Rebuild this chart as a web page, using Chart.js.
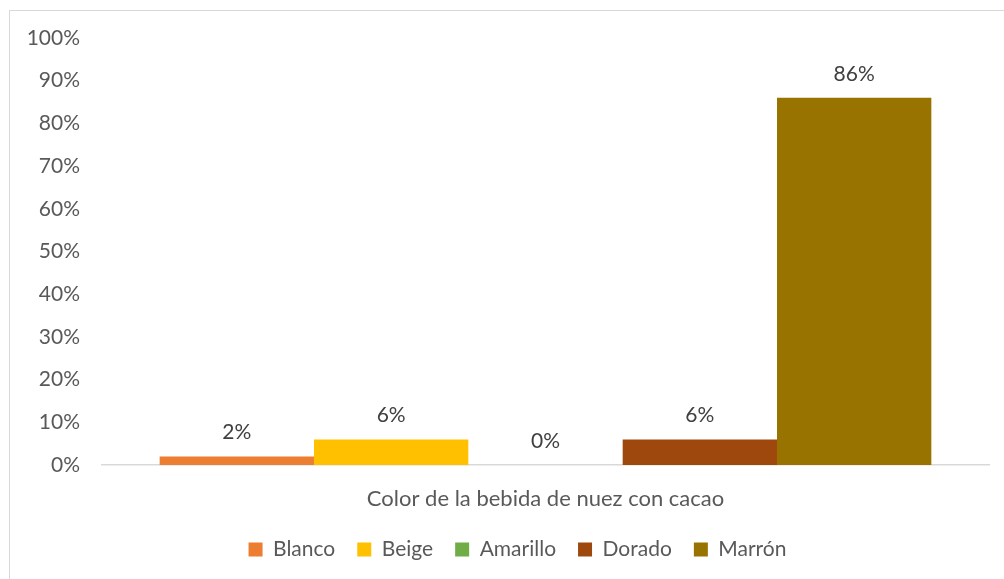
<!DOCTYPE html>
<html>
<head>
<meta charset="utf-8">
<script src="https://cdn.jsdelivr.net/npm/chart.js@4/dist/chart.umd.min.js"></script>
<style>
  html, body { margin: 0; padding: 0; background: #fff; }
  #frame {
    position: absolute;
    left: 9px;
    top: 10px;
    width: 995px;
    height: 569px;
    border-left: 1px solid #d9d9d9;
    border-top: 1px solid #d9d9d9;
  }
  #frame canvas { display: block; }
</style>
</head>
<body>
<div id="frame"><canvas id="graph1" width="995" height="569"></canvas></div>
<script>
var categories = ['Color de la bebida de nuez con cacao'];
var seriesNames = ['Blanco', 'Beige', 'Amarillo', 'Dorado', 'Marrón'];
var seriesValues = [2, 6, 0, 6, 86]; // %
var seriesColors = ['#ED7D31', '#FFC000', '#70AD47', '#9E480E', '#997300'];
var yTicks = [0, 10, 20, 30, 40, 50, 60, 70, 80, 90, 100];

var fontFamily = 'Lato, "Open Sans", sans-serif';
var fontSize = 21;

// value labels above each bar
var valueLabels = {
  id: 'valueLabels',
  afterDatasetsDraw: function (chart) {
    var ctx = chart.ctx;
    ctx.save();
    ctx.font = fontSize + 'px ' + fontFamily;
    ctx.fillStyle = '#404040';
    ctx.textAlign = 'center';
    ctx.textBaseline = 'middle';
    chart.data.datasets.forEach(function (ds, i) {
      var meta = chart.getDatasetMeta(i);
      meta.data.forEach(function (bar, j) {
        ctx.fillText(ds.data[j] + '%', bar.x, bar.y - 24);
      });
    });
    ctx.restore();
  }
};

// nudge the legend to the right, centred under the plot like the original
var legendShift = {
  id: 'legendShift',
  afterLayout: function (chart) {
    chart.legend.left += 18;
    chart.legend.right += 18;
  }
};

var datasets = seriesNames.map(function (name, i) {
  return {
    label: name,
    data: [seriesValues[i]],
    backgroundColor: seriesColors[i],
    borderWidth: 0,
    categoryPercentage: 0.87,
    barPercentage: 1.0
  };
});

var graph1 = new Chart(
  document.getElementById('graph1'),
  {
    type: 'bar',
    data: { labels: categories, datasets: datasets },
    plugins: [valueLabels, legendShift],
    options: {
      responsive: false,
      animation: false,
      layout: { padding: { left: 0, right: 16, top: 27, bottom: 10 } },
      plugins: {
        tooltip: { enabled: false },
        legend: {
          position: 'bottom',
          labels: {
            boxWidth: 14,
            boxHeight: 14,
            padding: 22,
            color: '#595959',
            font: { family: fontFamily, size: fontSize }
          }
        }
      },
      scales: {
        x: {
          afterFit: function (scale) { scale.height = 52; },
          grid: { display: false, drawTicks: false },
          border: { display: true, color: '#d9d9d9', width: 1.5 },
          ticks: {
            padding: 21,
            color: '#595959',
            font: { family: fontFamily, size: 22 }
          }
        },
        y: {
          min: 0,
          max: 100,
          afterFit: function (scale) {
            scale.width = 92;
            scale.paddingTop = 0;
            scale.paddingBottom = 0;
          },
          afterBuildTicks: function (scale) {
            scale.ticks = yTicks.map(function (v) { return { value: v }; });
          },
          grid: { display: false, drawTicks: false },
          border: { display: false },
          ticks: {
            padding: 22,
            color: '#595959',
            font: { family: fontFamily, size: fontSize },
            callback: function (v) { return v + '%'; }
          }
        }
      }
    }
  }
);
</script>
</body>
</html>
